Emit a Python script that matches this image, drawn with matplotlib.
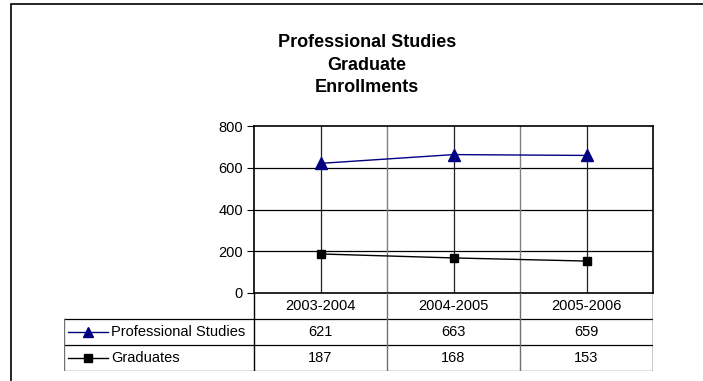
import matplotlib
matplotlib.use("Agg")
import matplotlib.pyplot as plt
from matplotlib.lines import Line2D
from matplotlib.patches import Rectangle

plt.rcParams['font.family'] = ['Liberation Sans', 'DejaVu Sans']

years = ["2003-2004", "2004-2005", "2005-2006"]
prof_studies = [621, 663, 659]
graduates = [187, 168, 153]
series_names = ["Professional Studies", "Graduates"]

W, H = 703, 381
fig = plt.figure(figsize=(W / 100, H / 100), dpi=100)

# outer chart frame (runs off the right/bottom edge)
fig.patches.append(Rectangle((11 / W, -0.2), 1.2, 1.2 - 4 / H,
                             transform=fig.transFigure, fill=False,
                             edgecolor="black", linewidth=1.2))

fig.text(367 / W, 1 - 65 / H,
         "Professional Studies\nGraduate\nEnrollments",
         ha="center", va="center", fontsize=13, fontweight="bold",
         linespacing=1.45)

# plot area
left, right, top, bottom = 254, 653, 126, 293
ax = fig.add_axes([left / W, 1 - bottom / H, (right - left) / W, (bottom - top) / H])
x = range(len(years))
ax.set_xlim(-0.5, len(years) - 0.5)
ax.set_ylim(0, 800)
ax.set_yticks(range(0, 801, 200))
ax.set_xticks([])
ax.tick_params(axis="y", length=5, width=0.8, labelsize=10.5, pad=3)
for yv in range(200, 800, 200):
    ax.axhline(yv, color="black", linewidth=0.9, zorder=1)
for i in x:
    ax.axvline(i, color="#202020", linewidth=0.9, zorder=1)
for i in range(1, len(years)):
    ax.axvline(i - 0.5, color="#808080", linewidth=1.0, zorder=1)
for s in ax.spines.values():
    s.set_linewidth(1.2)
    s.set_color("black")

ax.plot(x, prof_studies, color="#000080", linewidth=1.0, marker="^",
        markersize=9, zorder=3, clip_on=False)
ax.plot(x, graduates, color="black", linewidth=1.0, marker="s",
        markersize=6.3, zorder=3, clip_on=False)

# data table under the plot
t_left, t_bottom = 64, 371
col_px = (right - left) / len(years)
leg_w = (left - t_left) / col_px
tax = fig.add_axes([t_left / W, 1 - t_bottom / H, (right - t_left) / W, (t_bottom - bottom) / H])
tax.set_xlim(-0.5 - leg_w, len(years) - 0.5)
tax.set_ylim(3, 0)
tax.axis("off")
edge = "#707070"
x0 = -0.5 - leg_w
x1 = len(years) - 0.5
tax.plot([x0, x1], [1, 1], color="black", lw=0.9)
tax.plot([x0, x1], [2, 2], color="black", lw=0.9)
tax.plot([x0, x1], [3, 3], color=edge, lw=1.0)
tax.plot([x0, x0], [1, 3], color=edge, lw=1.0)
for i in range(len(years) + 1):
    tax.plot([i - 0.5, i - 0.5], [0, 3],
             color="black" if i in (0, len(years)) else edge, lw=1.0)

for i, yr in enumerate(years):
    tax.text(i, 0.5, yr, ha="center", va="center", fontsize=10.5)
    tax.text(i, 1.5, str(prof_studies[i]), ha="center", va="center", fontsize=10.5)
    tax.text(i, 2.5, str(graduates[i]), ha="center", va="center", fontsize=10.5)

# legend keys in the first column
px = 1 / col_px
styles = [("#000080", "^", 7), ("black", "s", 5.5)]
for r, (name, (c, m, ms)) in enumerate(zip(series_names, styles)):
    yy = 1.5 + r
    tax.add_line(Line2D([x0 + 4 * px, x0 + 44 * px], [yy, yy], color=c, lw=1.0))
    tax.add_line(Line2D([x0 + 24 * px], [yy], color=c, marker=m, markersize=ms))
    tax.text(x0 + 47 * px, yy, name, ha="left", va="center", fontsize=10.5)

fig.savefig("out.png", dpi=100)
